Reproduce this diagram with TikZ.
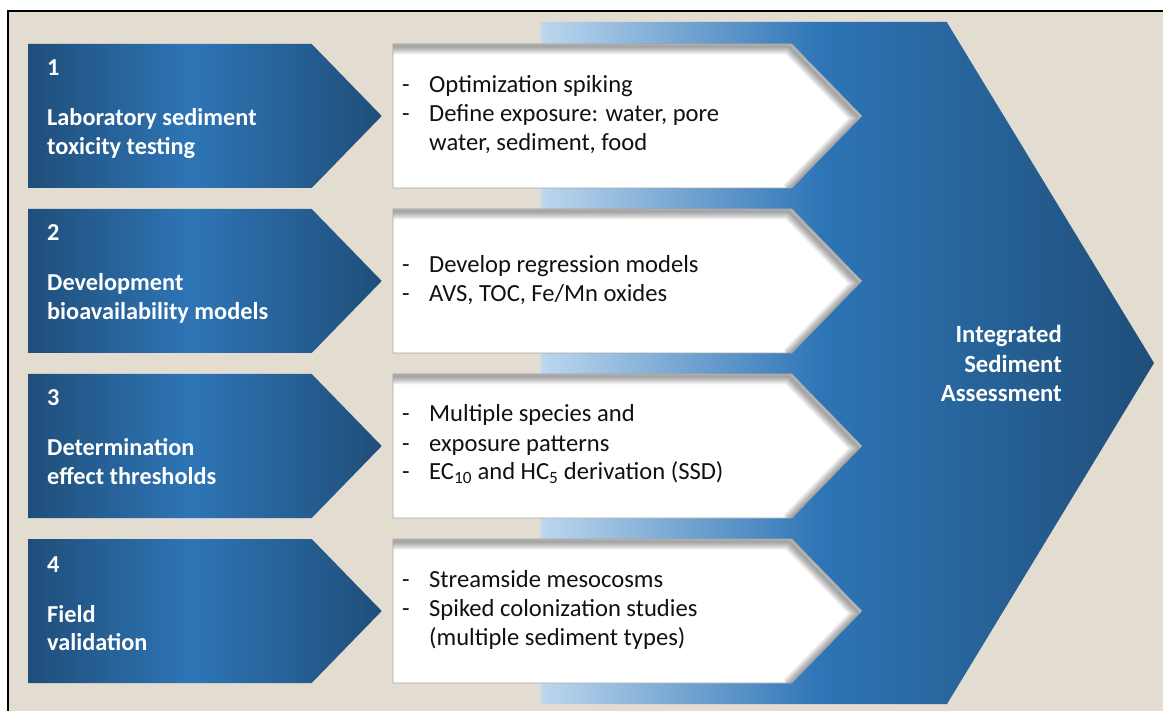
\documentclass[tikz,border=0pt]{standalone}
\usepackage{fontspec}
\setmainfont{Carlito}
\definecolor{bg}{HTML}{E3DCD0}
\definecolor{dblue}{HTML}{1F4E79}
\definecolor{mblue}{HTML}{2E75B6}
\definecolor{lblue}{HTML}{BDD7EE}
\definecolor{ink}{HTML}{111111}
\pgfdeclarehorizontalshading{bigarrowshade}{100bp}{color(0bp)=(lblue); color(25bp)=(lblue); color(47.8bp)=(mblue); color(75bp)=(dblue); color(100bp)=(dblue)}
\pgfdeclarehorizontalshading{chevronshade}{100bp}{color(0bp)=(dblue); color(25bp)=(dblue); color(48bp)=(mblue); color(75bp)=(dblue); color(100bp)=(dblue)}
\newcommand\dashitem{\makebox[27pt][l]{-}}
\newcommand\contitem{\hspace*{27pt}}
\begin{document}
\begin{tikzpicture}[x=1pt,y=-1pt,
  bluebox/.style={shading=chevronshade, draw=none},
  whiteedge/.style={draw=gray!70, line width=0.6pt},
  numtext/.style={anchor=base west, inner sep=0pt, text=white, font=\bfseries\fontsize{24.3}{28.3}\selectfont},
  titletext/.style={anchor=base west, inner sep=0pt, text=white, font=\bfseries\fontsize{24.3}{28.3}\selectfont},
  bodytext/.style={anchor=base west, inner sep=0pt, text=ink, font=\fontsize{24.6}{29}\selectfont},
  bigtext/.style={anchor=base east, inner sep=0pt, text=white, font=\bfseries\fontsize{24.7}{29.6}\selectfont}]
\useasboundingbox (0,0) rectangle (1163,711);
% background
\fill[white] (0,0) rectangle (1163,711);
\fill[bg] (8,11) rectangle (1163,711);
\draw[black, line width=1.5pt] (8,711) -- (8,11) -- (1163,11);
% big arrow
\path[shading=bigarrowshade] (541,22) -- (946.7,22) -- (1154,363) -- (947,704) -- (541,704) -- cycle;
% chevrons
\foreach \t in {44,209,374,539} {
  \path[bluebox] (28,\t) -- (311.7,\t) -- (381.7,\t+72) -- (311.7,\t+144) -- (28,\t+144) -- cycle;
  \begin{scope}
    \clip (393,\t) -- (791.7,\t) -- (861.7,\t+72) -- (791.7,\t+144) -- (393,\t+144) -- cycle;
    \fill[white] (380,\t-10) rectangle (875,\t+160);
    \foreach \w in {2,4,...,16}
      \draw[black, opacity=0.05, line width=\w pt, line join=miter, shift={(-2.5,2.5)}]
        (380,\t) -- (791.7,\t) -- (861.7,\t+72) -- (791.7,\t+144);
  \end{scope}
  \draw[whiteedge] (393,\t) -- (791.7,\t) -- (861.7,\t+72) -- (791.7,\t+144) -- (393,\t+144) -- cycle;
}
% blue box texts
\node[numtext] (n1) at (47,76) {1};
\node[titletext] (h1) at (47,126) {\parbox[t]{320pt}{\raggedright Laboratory sediment\\toxicity testing}};
\node[numtext] (n2) at (47,241) {2};
\node[titletext] (h2) at (47,291) {\parbox[t]{320pt}{\raggedright Development\\bioavailability models}};
\node[numtext] (n3) at (47,406) {3};
\node[titletext] (h3) at (47,456) {\parbox[t]{320pt}{\raggedright Determination\\effect thresholds}};
\node[numtext] (n4) at (47,572) {4};
\node[titletext] (h4) at (47,622) {\parbox[t]{320pt}{\raggedright Field\\validation}};
% white box texts
\node[bodytext] (w1) at (402,92.7) {\parbox[t]{440pt}{\raggedright \dashitem Optimization spiking\\\dashitem Define exposure: water, pore\\\contitem water, sediment, food}};
\node[bodytext] (w2) at (402,272.2) {\parbox[t]{440pt}{\raggedright \dashitem Develop regression models\\\dashitem AVS, TOC, Fe/Mn oxides}};
\node[bodytext] (w3) at (402,422) {\parbox[t]{440pt}{\raggedright \dashitem Multiple species and\\\dashitem exposure patterns\\\dashitem EC\textsubscript{10} and HC\textsubscript{5} derivation (SSD)}};
\node[bodytext] (w4) at (402,587) {\parbox[t]{440pt}{\raggedright \dashitem Streamside mesocosms\\\dashitem Spiked colonization studies\\\contitem (multiple sediment types)}};
% final
\node[bigtext] (isa) at (1062,342.7) {\parbox[t]{220pt}{\raggedleft Integrated\\Sediment\\Assessment}};
\end{tikzpicture}
\end{document}
